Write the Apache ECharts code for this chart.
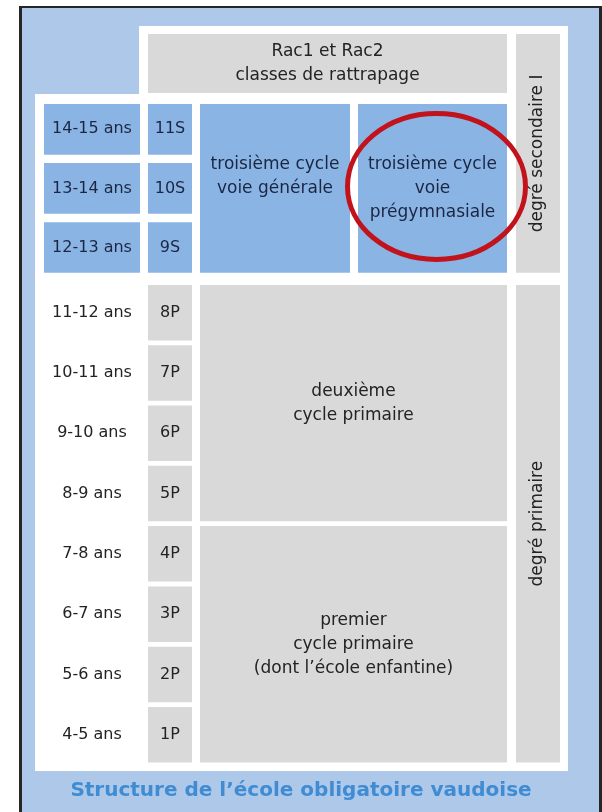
<!DOCTYPE html>
<html><head><meta charset="utf-8">
<script src="https://cdn.jsdelivr.net/npm/echarts@6/dist/echarts.min.js"></script>
<style>html,body{margin:0;padding:0;background:#fff}#c{width:602px;height:812px}</style>
</head><body><div id="c"></div>
<script>
// ---------- data ----------
const ages = ['14-15 ans','13-14 ans','12-13 ans','11-12 ans','10-11 ans','9-10 ans','8-9 ans','7-8 ans','6-7 ans','5-6 ans','4-5 ans'];
const classes = ['11S','10S','9S','8P','7P','6P','5P','4P','3P','2P','1P'];
const secondaryRowCount = 3;
const racLabel = 'Rac1 et Rac2\nclasses de rattrapage';
const cycleNames = ['troisième cycle\nvoie générale','troisième cycle\nvoie\nprégymnasiale','deuxième\ncycle primaire','premier\ncycle primaire\n(dont l’école enfantine)'];
const cycleFirstRow = [0, 0, 3, 7];
const cycleLastRow = [2, 2, 6, 10];
const cycleTrack = ['general', 'pregym', 'both', 'both'];
const degreeNames = ['degré secondaire I', 'degré primaire'];
const degreeFirstRow = [-1, 3];
const degreeLastRow = [2, 10];
const circledCycle = 1;
const titleText = 'Structure de l’école obligatoire vaudoise';

// ---------- layout / style ----------
const COL = { age:[44,140], cls:[148,192], general:[200,350], pregym:[358,507], both:[200,507], rac:[148,507], degree:[516,560], panelTop:[139,568], panelMain:[35,568] };
const GAP = 0.04;
const SEC_PITCH = 0.98, SEC_H = 0.88;
const RAC_Y = [-1.121, -0.143];
const PANEL_TOP_Y = [-1.254, -0.1];
const PANEL_MAIN_Y = [-0.126, 11.1];
const C = { blue:'#8ab4e4', gray:'#d9d9d9', white:'#ffffff', bg:'#aec8ea', textBlue:'#1b2643', text:'#232323', red:'#c2121b', title:'#3f8cd3' };
const FONT = 'DejaVu Sans';
const LH = 24;

const items = [];
function add(x, y, o) { items.push(Object.assign({ x0:x[0], x1:x[1], y0:y[0], y1:y[1] }, o)); }
function rowSpan(a, b) {
  const top = a < secondaryRowCount ? a * SEC_PITCH + GAP : a + GAP;
  const bot = b < secondaryRowCount ? b * SEC_PITCH + SEC_H : b + 1 - GAP;
  return [top, bot];
}

add(COL.panelTop, PANEL_TOP_Y, { fill:C.white });
add(COL.panelMain, PANEL_MAIN_Y, { fill:C.white });
add(COL.rac, RAC_Y, { fill:C.gray, text:racLabel, color:C.text });
ages.forEach((a, i) => {
  const sec = i < secondaryRowCount;
  add(COL.age, rowSpan(i, i), { fill: sec ? C.blue : null, text:a, color: sec ? C.textBlue : C.text, size:16 });
  add(COL.cls, rowSpan(i, i), { fill: sec ? C.blue : C.gray, text:classes[i], color: sec ? C.textBlue : C.text, size:16 });
});
cycleNames.forEach((n, k) => {
  const sec = cycleFirstRow[k] < secondaryRowCount;
  const peers = cycleNames.filter((_, j) => cycleFirstRow[j] === cycleFirstRow[k]);
  const maxLines = Math.max(...peers.map(s => s.split('\n').length));
  add(COL[cycleTrack[k]], rowSpan(cycleFirstRow[k], cycleLastRow[k]), { fill: sec ? C.blue : C.gray, text:n, color: sec ? C.textBlue : C.text, topLines:maxLines });
});
degreeNames.forEach((n, k) => {
  const y = rowSpan(Math.max(degreeFirstRow[k], 0), degreeLastRow[k]);
  if (degreeFirstRow[k] < 0) y[0] = RAC_Y[0];
  add(COL.degree, y, { fill:C.gray, text:n, color:C.text, rotate:true });
});
{
  const k = circledCycle;
  add(COL[cycleTrack[k]], rowSpan(cycleFirstRow[k], cycleLastRow[k]), { ellipse:true });
}

const chart = echarts.init(document.getElementById('c'), null, { renderer:'canvas' });
chart.setOption({
  animation:false,
  backgroundColor:'#ffffff',
  title:{ text:titleText, left:'center', top:776, textStyle:{ fontFamily:FONT, fontWeight:'bold', fontSize:20, color:C.title } },
  graphic:[
    { type:'rect', z:-10, shape:{ x:19, y:6, width:583, height:806 }, style:{ fill:'#262626' } },
    { type:'rect', z:-9, shape:{ x:22, y:8, width:577, height:804 }, style:{ fill:C.bg } }
  ],
  grid:{ left:0, right:0, top:0, bottom:0 },
  xAxis:{ type:'value', min:0, max:602, show:false },
  yAxis:{ type:'value', min:-1.685, max:11.781, inverse:true, show:false },
  series:[{
    type:'custom',
    z:5,
    data: items.map(it => [it.x0, it.x1, it.y0, it.y1]),
    renderItem: function (params, api) {
      const it = items[params.dataIndex];
      const p0 = api.coord([api.value(0), api.value(2)]);
      const p1 = api.coord([api.value(1), api.value(3)]);
      const x = Math.min(p0[0], p1[0]), y = Math.min(p0[1], p1[1]);
      const w = Math.abs(p1[0] - p0[0]), h = Math.abs(p1[1] - p0[1]);
      const cx = x + w / 2, cy = y + h / 2;
      const children = [];
      if (it.ellipse) {
        children.push({ type:'ellipse', shape:{ cx:cx + 4, cy:cy - 2, rx:89, ry:73 }, style:{ fill:'none', stroke:C.red, lineWidth:5 } });
        return { type:'group', children };
      }
      if (it.fill) children.push({ type:'rect', shape:{ x, y, width:w, height:h }, style:{ fill:it.fill } });
      if (it.text) {
        const lines = it.text.split('\n').length;
        const topMode = it.topLines && it.topLines > lines;
        children.push({
          type:'text',
          x: cx,
          y: topMode ? cy - it.topLines * LH / 2 : cy,
          rotation: it.rotate ? Math.PI / 2 : 0,
          style:{ text:it.text, fill:it.color, fontFamily:FONT, fontSize:it.size || 17, lineHeight:LH, align:'center', verticalAlign: topMode ? 'top' : 'middle' }
        });
      }
      return { type:'group', children };
    }
  }]
});
</script>
</body></html>
